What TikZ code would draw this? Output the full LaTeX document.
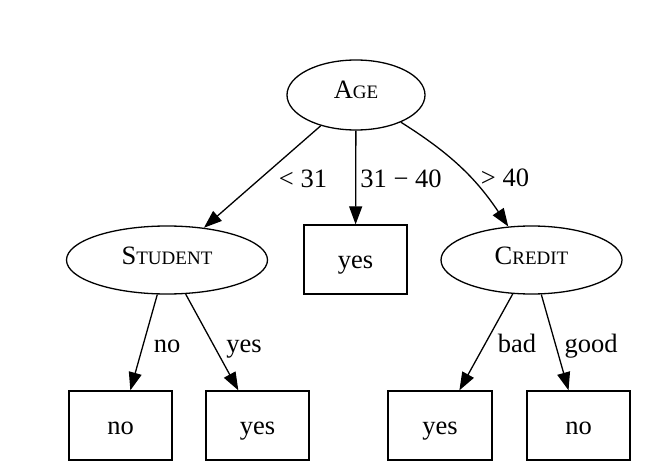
\documentclass[tikz,border=0pt]{standalone}
\usepackage{fontspec}
\setmainfont{Liberation Serif}
\usetikzlibrary{shapes.geometric,arrows.meta}
\newcommand{\bigtxt}{\fontsize{26.5}{31}\selectfont}
\newcommand{\smtxt}{\fontsize{19}{23}\selectfont}
\newcommand{\fsc}[2]{{\bigtxt #1}{\smtxt #2}}
\begin{document}
\begin{tikzpicture}[x=1pt,y=-1pt,
  every node/.style={font=\bigtxt, text=black},
  testnode/.style={draw, ellipse, line width=1.3pt, inner sep=0pt, text height=12pt, text depth=4pt},
  leafnode/.style={draw, rectangle, line width=1.3pt, inner sep=0pt, minimum width=103pt, minimum height=69pt, text height=20pt, text depth=3pt},
  edgelbl/.style={inner sep=0pt, anchor=base},
  conn/.style={line width=1.3pt, -{Triangle[length=18pt,width=13pt]}}
]
\useasboundingbox (0,0) rectangle (656,476);
\node[testnode, minimum width=138pt, minimum height=70pt] (age) at (356,95) {\fsc{A}{GE}};
\node[testnode, minimum width=201pt, minimum height=68pt] (student) at (167,260) {\fsc{S}{TUDENT}};
\node[testnode, minimum width=181pt, minimum height=68pt] (credit) at (531.5,260) {\fsc{C}{REDIT}};
\node[leafnode] (yesm) at (355.5,259.5) {yes};
\node[leafnode] (no1) at (120.5,425.5) {no};
\node[leafnode] (yes1) at (257.5,425.5) {yes};
\node[leafnode, minimum width=104pt] (yes2) at (440,425.5) {yes};
\node[leafnode] (no2) at (578.5,425.5) {no};

\draw[conn] (age) -- (student);
\draw[conn] (age) -- (yesm);
\draw[conn] (age) to[bend left=12] (credit);
\draw[conn] (student) -- (no1);
\draw[conn] (student) -- (yes1);
\draw[conn] (credit) -- (yes2);
\draw[conn] (credit) -- (no2);

\node[edgelbl] (l1) at (303,187) {< 31};
\node[edgelbl] (l2) at (401,187) {31 − 40};
\node[edgelbl] (l3) at (505,186) {> 40};
\node[edgelbl] (l4) at (167,352) {no};
\node[edgelbl] (l5) at (244,352) {yes};
\node[edgelbl] (l6) at (517,352) {bad};
\node[edgelbl] (l7) at (591,352) {good};
\end{tikzpicture}
\end{document}
